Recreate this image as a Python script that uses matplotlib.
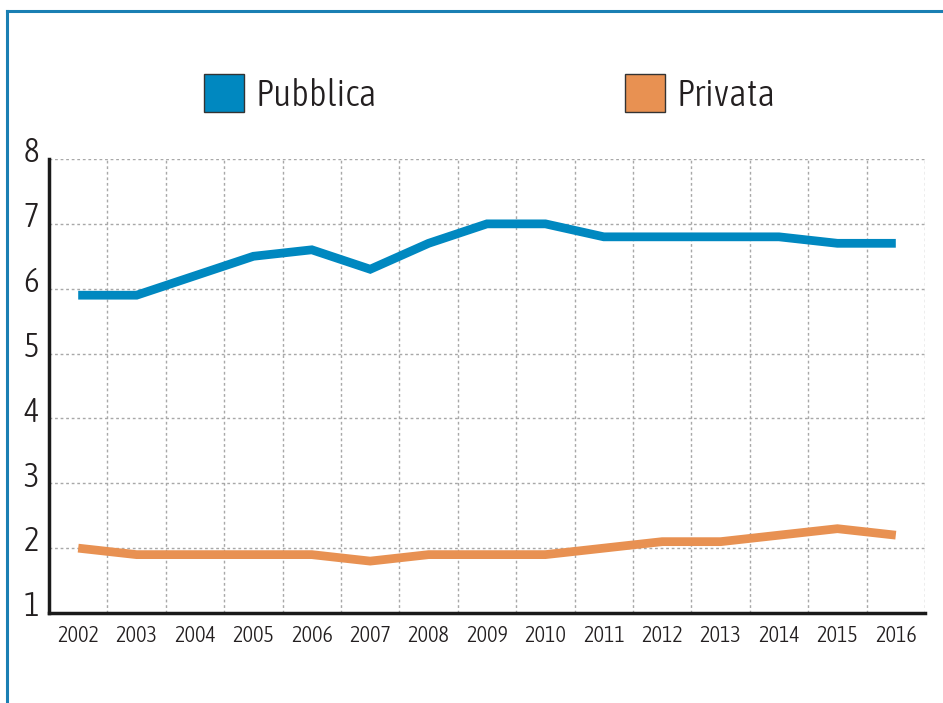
import matplotlib
matplotlib.use('AGG')
import matplotlib.pyplot as plt
from matplotlib.patches import Patch
from matplotlib.lines import Line2D
from matplotlib.transforms import ScaledTranslation

years = ['2002', '2003', '2004', '2005', '2006', '2007', '2008', '2009',
         '2010', '2011', '2012', '2013', '2014', '2015', '2016']
pubblica = [5.9, 5.9, 6.2, 6.5, 6.6, 6.3, 6.7, 7.0, 7.0, 6.8, 6.8, 6.8, 6.8, 6.7, 6.7]
privata = [2.0, 1.9, 1.9, 1.9, 1.9, 1.8, 1.9, 1.9, 1.9, 2.0, 2.1, 2.1, 2.2, 2.3, 2.2]
y_ticks = [1, 2, 3, 4, 5, 6, 7, 8]

blue = '#0088c0'
orange = '#e89152'
frame_col = '#1a7fb3'
text_col = '#231f20'

plt.rcParams['font.family'] = ['Asap Condensed', 'DejaVu Sans']
plt.rcParams['font.weight'] = 300

fig = plt.figure(figsize=(9.43, 7.03), dpi=100)
W, H = 943, 703
ax = fig.add_axes([49 / W, (H - 613) / H, (925 - 49) / W, (613 - 159) / H])

x = list(range(len(years)))
ax.plot(x, pubblica, color=blue, linewidth=6.3, solid_joinstyle='miter', solid_capstyle='butt', zorder=3)
ax.plot(x, privata, color=orange, linewidth=6.3, solid_joinstyle='miter', solid_capstyle='butt', zorder=3)

ax.set_xlim(-0.5, len(years) - 0.5)
ax.set_ylim(1, 8)

# dotted grid between categories and at each unit
for gx in [i + 0.5 for i in range(len(years))]:
    ax.axvline(gx, color='#a8a8a8', linestyle=(0, (2, 2)), linewidth=1, zorder=1)
for gy in y_ticks[1:]:
    ax.axhline(gy, color='#a8a8a8', linestyle=(0, (2, 2)), linewidth=1, zorder=1)

ax.set_xticks(x)
ax.set_xticklabels(years, fontsize=16, color=text_col)
ax.set_yticks(y_ticks)
ax.set_yticklabels([str(v) for v in y_ticks], fontsize=24, color=text_col)
ax.tick_params(length=0, pad=7)
ax.tick_params(axis='x', pad=9)
for lab in ax.get_yticklabels():
    lab.set_transform(lab.get_transform() + ScaledTranslation(0, 7 / 72, fig.dpi_scale_trans))

for s in ['top', 'right']:
    ax.spines[s].set_visible(False)
for s in ['left', 'bottom']:
    ax.spines[s].set_linewidth(2.5)
    ax.spines[s].set_color('#1a1a1a')

# outer frame (left and top only)
fig.add_artist(Line2D([7.5 / W, 7.5 / W], [0, 1 - 11 / H], color=frame_col, linewidth=2.2))
fig.add_artist(Line2D([7.5 / W, 1], [1 - 11 / H, 1 - 11 / H], color=frame_col, linewidth=2.2))

handles = [Patch(facecolor=blue, edgecolor='#333333', linewidth=1),
           Patch(facecolor=orange, edgecolor='#333333', linewidth=1)]
fig.legend(handles, ['Pubblica', 'Privata'], ncol=2, frameon=False,
           loc='center left', bbox_to_anchor=(170 / W, 1 - 94 / H),
           fontsize=27, handlelength=1.07, handleheight=1.15,
           handletextpad=0.32, columnspacing=6.6, labelcolor=text_col)

fig.savefig('out.png', dpi=100)
